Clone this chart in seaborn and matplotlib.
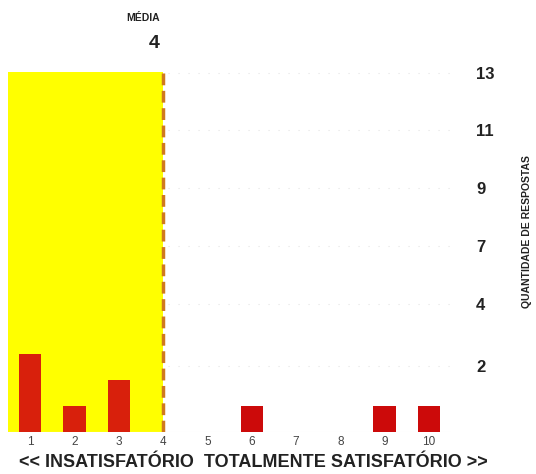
import matplotlib
matplotlib.use("Agg")
import matplotlib.pyplot as plt
import seaborn as sns
import pandas as pd
import numpy as np

# data
categories = ["1", "2", "3", "4", "5", "6", "7", "8", "9", "10"]
counts = [3, 1, 2, 0, 0, 1, 0, 0, 1, 1]
y_tick_labels = ["2", "4", "7", "9", "11", "13"]
mean_label = "4"
mean_category = "4"

sns.set_theme(style="white")
plt.rcParams['font.family'] = ['Liberation Sans', 'DejaVu Sans']

df = pd.DataFrame({"nota": categories, "qtd": counts})

fig = plt.figure(figsize=(5.36, 4.74), dpi=100)
ax = fig.add_axes([8/536, 1 - 432/474, (451 - 8)/536, (432 - 72)/474])

mean_idx = categories.index(mean_category)
ax.axvspan(-0.5, mean_idx, color="#FFFF00", zorder=1, lw=0)

bar_colors = ["#D8200C" if i < mean_idx else "#CC0A0A" for i in range(len(categories))]
sns.barplot(data=df, x="nota", y="qtd", order=categories, hue="nota",
            palette=bar_colors, legend=False, width=0.5, ax=ax, zorder=3,
            linewidth=0, saturation=1)

ax.axvline(mean_idx, color="#D07A1E", lw=2.5, ls=(0, (3.4, 1.6)), zorder=4)

ax.set_xlim(-0.5, 9.5)
ax.set_ylim(0, 13.85)

ytick_pos = [2.54, 4.92, 7.15, 9.38, 11.6, 13.8]
ax.yaxis.tick_right()
ax.set_yticks(ytick_pos)
ax.set_yticklabels(y_tick_labels, fontsize=12, fontweight="bold", color="#222222")
ax.tick_params(axis="y", length=0, pad=18)
ax.tick_params(axis="x", length=0, pad=3, labelsize=8.5, labelcolor="#444444")
for y in ytick_pos:
    ax.axhline(y, color="#E4E4E4", lw=0.8, ls=(0, (1, 8)), zorder=0.5)

for s in ax.spines.values():
    s.set_visible(False)
ax.axhline(0, color="#EEEEEE", lw=0.8, zorder=2)

ax.set_xlabel("<< INSATISFATÓRIO  TOTALMENTE SATISFATÓRIO >>", fontsize=13,
              fontweight="bold", color="#222222", labelpad=1,
              family=['Liberation Sans Narrow', 'Liberation Sans', 'DejaVu Sans'])
ax.xaxis.set_label_coords(0.555, -0.06)
ax.set_ylabel("")

fig.text(527/536, 1 - 232/474, "QUANTIDADE DE RESPOSTAS", rotation=90, ha="center",
         va="center", fontsize=7.5, fontweight="bold", color="#222222")

fig.text(160/536, 1 - 18/474, "MÉDIA", ha="right", va="center", fontsize=7.5,
         fontweight="bold", color="#222222")
fig.text(160/536, 1 - 44/474, mean_label, ha="right", va="center", fontsize=14,
         fontweight="bold", color="#222222")

fig.savefig("out.png", dpi=100)
